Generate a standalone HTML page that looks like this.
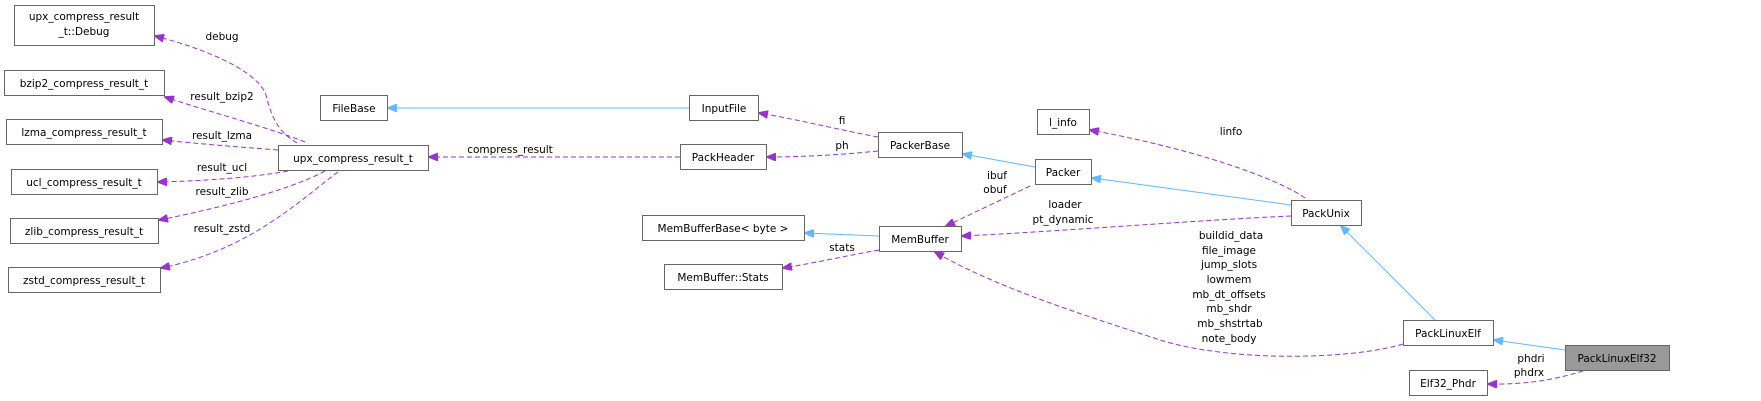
<!DOCTYPE html>
<html><head><meta charset="utf-8"><style>
html,body{margin:0;padding:0;background:#fff;}
svg{display:block;}
text{font-family:"DejaVu Sans","Liberation Sans",sans-serif;font-size:10.5px;fill:#000;}
.b{fill:#fff;stroke:#666;stroke-width:1;}
.p{fill:none;stroke:#9a32cd;stroke-width:1;stroke-dasharray:5,3;}
.l{fill:none;stroke:#63b8ff;stroke-width:1;}
</style></head><body>
<svg width="1761" height="401" viewBox="0 0 1761 401">
<defs>
<marker id="mp" markerWidth="10" markerHeight="8" refX="9" refY="4" orient="auto" markerUnits="userSpaceOnUse"><path d="M0,0 L10,4 L0,8 z" fill="#9a32cd" stroke="#9a32cd"/></marker>
<marker id="mb" markerWidth="10" markerHeight="8" refX="9" refY="4" orient="auto" markerUnits="userSpaceOnUse"><path d="M0,0 L10,4 L0,8 z" fill="#63b8ff" stroke="#63b8ff"/></marker>
</defs>
<!-- edges -->
<path class="p" marker-end="url(#mp)" d="M297,143 C280,133 272,120 266,95 C258,72 210,50 155,36"/>
<path class="p" marker-end="url(#mp)" d="M305,142 C270,128 210,112 165,97"/>
<path class="p" marker-end="url(#mp)" d="M278,150 C240,147 200,144 163,140"/>
<path class="p" marker-end="url(#mp)" d="M288,171 C250,178 200,181 158,182"/>
<path class="p" marker-end="url(#mp)" d="M325,171 C290,190 220,208 159,220"/>
<path class="p" marker-end="url(#mp)" d="M338,172 C300,200 250,250 161,268"/>
<path class="p" marker-end="url(#mp)" d="M680,157 L429,157"/>
<path class="l" marker-end="url(#mb)" d="M689,108 L388,108"/>
<path class="p" marker-end="url(#mp)" d="M878,137 C840,130 800,120 759,113"/>
<path class="p" marker-end="url(#mp)" d="M878,151 C840,155 800,157 767,157"/>
<path class="l" marker-end="url(#mb)" d="M1035,167 L963,154"/>
<path class="p" marker-end="url(#mp)" d="M1030,186 L946,226"/>
<path class="l" marker-end="url(#mb)" d="M1291,205 L1092,178"/>
<path class="p" marker-end="url(#mp)" d="M1305,198 C1280,180 1200,150 1090,130"/>
<path class="p" marker-end="url(#mp)" d="M1291,216 C1200,220 1050,232 962,236"/>
<path class="l" marker-end="url(#mb)" d="M879,236 L805,233"/>
<path class="p" marker-end="url(#mp)" d="M879,250 C850,255 820,262 783,268"/>
<path class="p" marker-end="url(#mp)" d="M1403,344 C1350,360 1230,362 1160,340 C1100,320 1000,290 935,252"/>
<path class="l" marker-end="url(#mb)" d="M1435,320 L1341,226"/>
<path class="l" marker-end="url(#mb)" d="M1565,350 L1494,340"/>
<path class="p" marker-end="url(#mp)" d="M1583,371 C1560,378 1530,385 1488,384"/>
<!-- nodes -->
<rect class="b" x="14.5" y="5.5" width="140" height="40"/><text x="84" y="20" text-anchor="middle">upx_compress_result</text><text x="84" y="35" text-anchor="middle">_t::Debug</text>
<rect class="b" x="4.5" y="70.5" width="160" height="25"/><text x="84" y="87" text-anchor="middle">bzip2_compress_result_t</text>
<rect class="b" x="6.5" y="119.5" width="156" height="25"/><text x="84" y="136" text-anchor="middle">lzma_compress_result_t</text>
<rect class="b" x="11.5" y="169.5" width="146" height="25"/><text x="84" y="186" text-anchor="middle">ucl_compress_result_t</text>
<rect class="b" x="10.5" y="218.5" width="148" height="25"/><text x="84" y="235" text-anchor="middle">zlib_compress_result_t</text>
<rect class="b" x="8.5" y="267.5" width="152" height="25"/><text x="84" y="284" text-anchor="middle">zstd_compress_result_t</text>
<rect class="b" x="278.5" y="145.5" width="150" height="25"/><text x="353" y="162" text-anchor="middle">upx_compress_result_t</text>
<rect class="b" x="320.5" y="95.5" width="67" height="25"/><text x="354" y="112" text-anchor="middle">FileBase</text>
<rect class="b" x="689.5" y="95.5" width="69" height="25"/><text x="724" y="112" text-anchor="middle">InputFile</text>
<rect class="b" x="680.5" y="144.5" width="86" height="25"/><text x="723" y="161" text-anchor="middle">PackHeader</text>
<rect class="b" x="878.5" y="132.5" width="84" height="25"/><text x="920" y="149" text-anchor="middle">PackerBase</text>
<rect class="b" x="1035.5" y="159.5" width="56" height="25"/><text x="1063" y="176" text-anchor="middle">Packer</text>
<rect class="b" x="1037.5" y="109.5" width="52" height="25"/><text x="1063" y="126" text-anchor="middle">l_info</text>
<rect class="b" x="642.5" y="215.5" width="162" height="25"/><text x="723" y="232" text-anchor="middle">MemBufferBase&lt; byte &gt;</text>
<rect class="b" x="879.5" y="226.5" width="82" height="25"/><text x="920" y="243" text-anchor="middle">MemBuffer</text>
<rect class="b" x="664.5" y="264.5" width="118" height="25"/><text x="723" y="281" text-anchor="middle">MemBuffer::Stats</text>
<rect class="b" x="1291.5" y="200.5" width="70" height="25"/><text x="1326" y="217" text-anchor="middle">PackUnix</text>
<rect class="b" x="1403.5" y="320.5" width="90" height="25"/><text x="1448" y="337" text-anchor="middle">PackLinuxElf</text>
<rect x="1565.5" y="345.5" width="104" height="25" fill="#999" stroke="#666"/><text x="1617" y="362" text-anchor="middle">PackLinuxElf32</text>
<rect class="b" x="1409.5" y="370.5" width="78" height="25"/><text x="1448" y="387" text-anchor="middle">Elf32_Phdr</text>
<!-- labels -->
<g text-anchor="middle">
<text x="222" y="40">debug</text>
<text x="222" y="100">result_bzip2</text>
<text x="222" y="139">result_lzma</text>
<text x="222" y="171">result_ucl</text>
<text x="222" y="195">result_zlib</text>
<text x="222" y="232">result_zstd</text>
<text x="510" y="153">compress_result</text>
<text x="842" y="124">fi</text>
<text x="842" y="149">ph</text>
<text x="997" y="179">ibuf</text><text x="995" y="193">obuf</text>
<text x="1065" y="208">loader</text><text x="1063" y="223">pt_dynamic</text>
<text x="1231" y="135">linfo</text>
<text x="842" y="251">stats</text>
<text x="1231" y="239">buildid_data</text>
<text x="1229" y="254">file_image</text>
<text x="1229" y="268">jump_slots</text>
<text x="1229" y="283">lowmem</text>
<text x="1229" y="298">mb_dt_offsets</text>
<text x="1229" y="312">mb_shdr</text>
<text x="1230" y="327">mb_shstrtab</text>
<text x="1229" y="342">note_body</text>
<text x="1531" y="362">phdri</text><text x="1529" y="376">phdrx</text>
</g>
</svg>
</body></html>
